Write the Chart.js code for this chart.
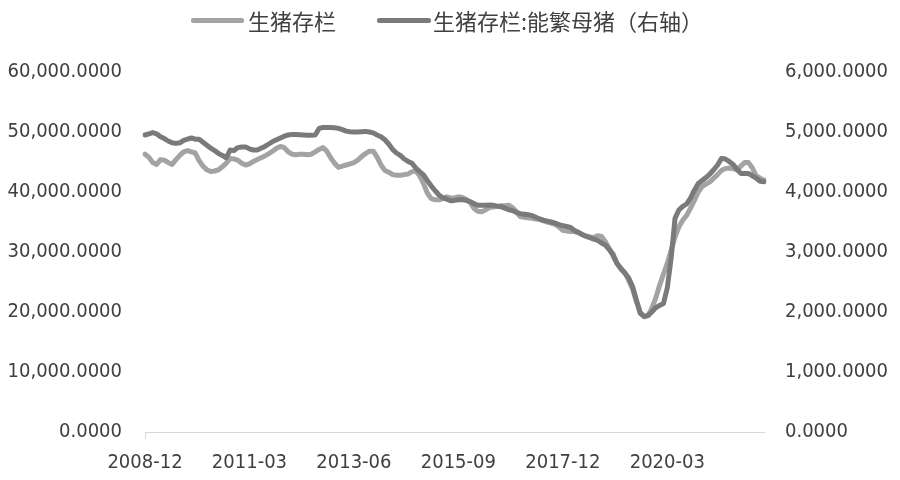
<!DOCTYPE html>
<html>
<head>
<meta charset="utf-8">
<script src="https://cdn.jsdelivr.net/npm/chart.js@4/dist/chart.umd.min.js"></script>
<style>
  html, body { margin: 0; padding: 0; background: #ffffff; }
  #wrap { position: relative; width: 900px; height: 480px; }
  canvas { position: absolute; left: 0; top: 0; }
  .lg-line { position: absolute; height: 5px; top: 18px; border-radius: 2px; }
  .lg-text { position: absolute; top: 4px; height: 32px; line-height: 32px; font-family: "Noto Sans CJK SC", sans-serif; font-size: 22px; color: #404040; white-space: nowrap; }
</style>
</head>
<body>
<div id="wrap">
  <canvas id="c" width="900" height="480"></canvas>
  <div class="lg-line" id="l1" style="left:191px;width:53px;"></div>
  <div class="lg-text" id="t1" style="left:248px;"></div>
  <div class="lg-line" id="l2" style="left:377px;width:54px;"></div>
  <div class="lg-text" id="t2" style="left:433px;"></div>
</div>
<script>
const categories = [
 '2008-12',
 '2009-01','2009-02','2009-03','2009-04','2009-05','2009-06','2009-07','2009-08','2009-09','2009-10','2009-11','2009-12',
 '2010-01','2010-02','2010-03','2010-04','2010-05','2010-06','2010-07','2010-08','2010-09','2010-10','2010-11','2010-12',
 '2011-01','2011-02','2011-03','2011-04','2011-05','2011-06','2011-07','2011-08','2011-09','2011-10','2011-11','2011-12',
 '2012-01','2012-02','2012-03','2012-04','2012-05','2012-06','2012-07','2012-08','2012-09','2012-10','2012-11','2012-12',
 '2013-01','2013-02','2013-03','2013-04','2013-05','2013-06','2013-07','2013-08','2013-09','2013-10','2013-11','2013-12',
 '2014-01','2014-02','2014-03','2014-04','2014-05','2014-06','2014-07','2014-08','2014-09','2014-10','2014-11','2014-12',
 '2015-01','2015-02','2015-03','2015-04','2015-05','2015-06','2015-07','2015-08','2015-09','2015-10','2015-11','2015-12',
 '2016-01','2016-02','2016-03','2016-04','2016-05','2016-06','2016-07','2016-08','2016-09','2016-10','2016-11','2016-12',
 '2017-01','2017-02','2017-03','2017-04','2017-05','2017-06','2017-07','2017-08','2017-09','2017-10','2017-11','2017-12',
 '2018-01','2018-02','2018-03','2018-04','2018-05','2018-06','2018-07','2018-08','2018-09','2018-10','2018-11','2018-12',
 '2019-01','2019-02','2019-03','2019-04','2019-05','2019-06','2019-07','2019-08','2019-09','2019-10','2019-11','2019-12',
 '2020-01','2020-02','2020-03','2020-04','2020-05','2020-06','2020-07','2020-08','2020-09','2020-10','2020-11','2020-12',
 '2021-01','2021-02','2021-03','2021-04','2021-05','2021-06','2021-07','2021-08','2021-09','2021-10','2021-11','2021-12',
 '2022-01','2022-02','2022-03','2022-04'
];

const xTickLabels = ['2008-12','2011-03','2013-06','2015-09','2017-12','2020-03'];

const seriesNames = ['生猪存栏', '生猪存栏:能繁母猪（右轴）'];

// 生猪存栏 (left axis)
const hogStock = [
 46300,45800,44900,44600,45400,45300,44900,44600,45400,46100,46700,46900,
 46700,46500,45200,44300,43700,43400,43500,43700,44200,44800,45600,45500,
 45300,44800,44500,44700,45100,45400,45700,46000,46400,46800,47300,47600,
 47400,46700,46300,46200,46300,46300,46200,46300,46700,47100,47400,46800,
 45700,44800,44100,44300,44500,44700,44900,45300,45900,46400,46800,46800,
 45800,44500,43600,43300,42900,42800,42800,42900,43000,43400,43500,42700,
 41400,39800,38900,38700,38700,38900,39200,39000,39000,39200,39100,38800,
 38300,37300,36800,36700,37000,37400,37500,37600,37700,37700,37800,37400,
 36700,35900,35800,35700,35600,35500,35450,35200,35000,34800,34600,34200,
 33600,33500,33400,33400,33200,32900,32700,32500,32400,32700,32600,31700,
 30600,29300,28100,27300,26600,25300,23900,21800,20000,19200,19400,20600,
 22300,24400,26300,28100,30300,32500,34200,35300,36100,37300,38600,40000,
 40900,41300,41700,42300,42900,43600,43900,44000,43900,43700,44300,44900,
 44900,44000,42700,42300,42000
];

// 能繁母猪 (right axis)
const sowStock = [
 4950,4970,4990,4970,4920,4890,4850,4820,4810,4820,4860,4880,
 4900,4880,4880,4830,4780,4730,4690,4640,4610,4570,4700,4690,
 4740,4750,4750,4720,4700,4700,4730,4760,4800,4840,4870,4900,
 4930,4950,4960,4960,4955,4950,4945,4945,4950,5060,5075,5075,
 5075,5070,5060,5040,5015,5005,5000,5000,5005,5010,5000,4985,
 4950,4920,4870,4800,4710,4650,4610,4550,4510,4480,4400,4340,
 4285,4190,4100,4020,3950,3905,3880,3855,3860,3870,3875,3860,
 3840,3810,3780,3780,3780,3785,3780,3765,3755,3730,3705,3690,
 3660,3640,3630,3620,3610,3580,3550,3530,3515,3500,3480,3455,
 3440,3425,3410,3360,3330,3290,3260,3240,3215,3195,3150,3115,
 3040,2960,2810,2720,2650,2570,2430,2200,1980,1930,1940,2000,
 2070,2110,2140,2400,2900,3560,3700,3760,3800,3900,4030,4140,
 4190,4240,4300,4370,4450,4560,4550,4510,4460,4380,4310,4310,
 4310,4270,4230,4180,4170
];

const colors = ['#a3a3a3', '#7a7a7a'];

document.getElementById('l1').style.background = colors[0];
document.getElementById('l2').style.background = colors[1];
document.getElementById('t1').textContent = seriesNames[0];
document.getElementById('t2').textContent = seriesNames[1];

const tickFont = { family: '"DejaVu Sans Condensed", "DejaVu Sans", sans-serif', size: 20 };
const textColor = '#404040';
const fmt4 = v => Number(v).toLocaleString('en-US', { minimumFractionDigits: 4, maximumFractionDigits: 4 });

new Chart(document.getElementById('c'), {
  type: 'line',
  data: {
    labels: categories,
    datasets: [
      { label: seriesNames[0], data: hogStock, yAxisID: 'y', borderColor: colors[0], backgroundColor: colors[0],
        borderWidth: 5, pointRadius: 0, tension: 0, borderJoinStyle: 'round', borderCapStyle: 'round', order: 1 },
      { label: seriesNames[1], data: sowStock, yAxisID: 'y1', borderColor: colors[1], backgroundColor: colors[1],
        borderWidth: 5, pointRadius: 0, tension: 0, borderJoinStyle: 'round', borderCapStyle: 'round', order: 0 }
    ]
  },
  options: {
    responsive: false,
    animation: false,
    events: [],
    layout: { padding: { top: 72, left: 0, right: 0, bottom: 0 } },
    plugins: { legend: { display: false }, tooltip: { enabled: false } },
    scales: {
      x: {
        type: 'category',
        offset: false,
        grid: {
          display: true,
          drawOnChartArea: false,
          drawTicks: true,
          tickLength: 7,
          tickColor: ctx => (ctx.index % 27 === 0 ? '#d9d9d9' : 'rgba(0,0,0,0)'),
          color: '#d9d9d9'
        },
        border: { display: true, color: '#d9d9d9', width: 1 },
        ticks: {
          autoSkip: false,
          maxRotation: 0,
          minRotation: 0,
          padding: 12,
          color: textColor,
          font: tickFont,
          callback: function (val, idx) {
            const lab = categories[idx];
            return xTickLabels.includes(lab) ? lab : null;
          }
        },
        afterFit: s => { s.height = 48; }
      },
      y: {
        position: 'left',
        min: 0, max: 60000,
        grid: { display: false, drawTicks: false },
        border: { display: false },
        ticks: { stepSize: 10000, padding: 23, color: textColor, font: tickFont, callback: v => fmt4(v) },
        afterFit: s => { s.width = 145; }
      },
      y1: {
        position: 'right',
        min: 0, max: 6000,
        grid: { display: false, drawTicks: false },
        border: { display: false },
        ticks: { stepSize: 1000, padding: 21, color: textColor, font: tickFont, callback: v => fmt4(v) },
        afterFit: s => { s.width = 136; }
      }
    }
  }
});
</script>
</body>
</html>
